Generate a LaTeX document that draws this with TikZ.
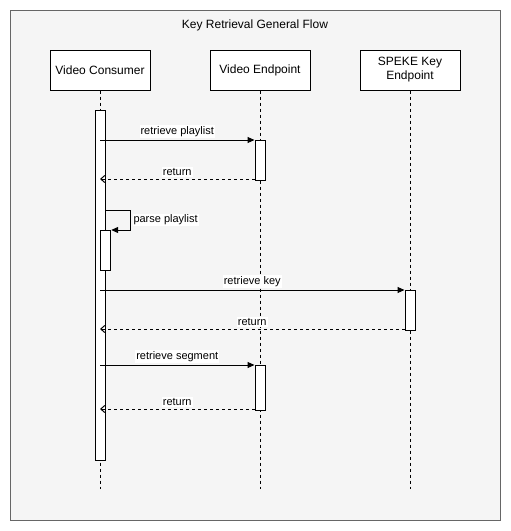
\documentclass[tikz,border=0pt]{standalone}
\usepackage{fontspec}
\setmainfont{Liberation Sans}
\usetikzlibrary{arrows.meta}
\definecolor{framegray}{HTML}{666666}
\definecolor{framefill}{HTML}{F5F5F5}
\tikzset{
	actor/.style={draw, fill=white, line width=1pt, minimum width=100, minimum height=40, align=center, font=\fontsize{12}{14}\selectfont},
	lifeline/.style={line width=1pt, dash pattern=on 3pt off 3pt},
	bar/.style={draw, fill=white, line width=1pt, minimum width=10, inner sep=0pt, anchor=north},
	call/.style={line width=1pt, -{Triangle[length=7pt,width=6pt]}},
	reply/.style={line width=1pt, dash pattern=on 3pt off 3pt, -{Straight Barb[length=4pt,width=7pt]}},
	msg/.style={fill=white, inner sep=1pt, font=\fontsize{11}{13}\selectfont}
}

\begin{document}
\begin{tikzpicture}[x=1pt, y=-1pt]
			%%%%% START %%%%%
			\useasboundingbox (0,0) rectangle (511,531);
			
			\draw[framegray, fill=framefill, line width=1pt] (10.5,10.5) rectangle (500.5,520.5);
			\node[font=\fontsize{12}{14}\selectfont] (title) at (255,25) {Key Retrieval General Flow};
			
			\node[actor] (vc) at (100,70) {Video Consumer};
			\node[actor] (ve) at (260,70) {Video Endpoint};
			\node[actor] (sk) at (410,70) {SPEKE Key\\Endpoint};
			
			\draw[lifeline] (vc.south) -- (vc.south |- 0,489);
			\draw[lifeline] (ve.south) -- (ve.south |- 0,489);
			\draw[lifeline] (sk.south) -- (sk.south |- 0,489);
			
			\node[bar, minimum height=350] (cbar) at (100,110) {};
			\node[bar, minimum height=40] (vbar1) at (260,140) {};
			\node[bar, minimum height=40] (pbar) at (105.7,230) {};
			\node[bar, minimum height=40] (kbar) at (410,290) {};
			\node[bar, minimum height=45] (vbar2) at (260,365) {};
			
			\coordinate (sp) at (105,210);
			\coordinate (r1) at ([yshift=2pt]vbar1.south west);
			\coordinate (r2) at ([yshift=2pt]kbar.south west);
			\coordinate (r3) at ([yshift=2pt]vbar2.south west);
			
			\draw[call] (cbar |- vbar1.north west) -- (vbar1.north west) node[msg, midway, above=2pt] {retrieve playlist};
			\draw[reply] (r1) -- (cbar |- r1) node[msg, midway, above=2pt] {return};
			
			\draw[call] (sp) -- ++(25,0) |- (pbar.north east) node[msg, pos=0.25, right=2pt] {parse playlist};
			
			\draw[call] (cbar |- kbar.north west) -- (kbar.north west) node[msg, midway, above=2pt] {retrieve key};
			\draw[reply] (r2) -- (cbar |- r2) node[msg, midway, above=2pt] {return};
			
			\draw[call] (cbar |- vbar2.north west) -- (vbar2.north west) node[msg, midway, above=2pt] {retrieve segment};
			\draw[reply] (r3) -- (cbar |- r3) node[msg, midway, above=2pt] {return};
			
			%%%%% END %%%%%
\end{tikzpicture}
\end{document}
